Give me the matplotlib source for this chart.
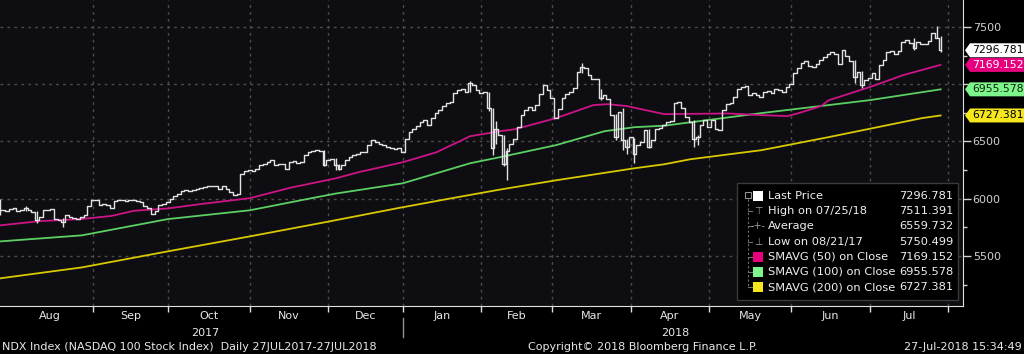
"""NDX Index daily bars with simple moving averages, Bloomberg style."""

import matplotlib
matplotlib.use('Agg')
import matplotlib.pyplot as plt
import matplotlib.transforms as mtransforms
from matplotlib.patches import Polygon, Rectangle
from matplotlib.ticker import FixedFormatter, FixedLocator, MultipleLocator, NullFormatter
import pandas as pd

# exchange holidays inside the window
holidays = ['2017-09-04', '2017-11-23', '2017-12-25', '2018-01-01', '2018-01-15',
            '2018-02-19', '2018-03-30', '2018-05-28', '2018-07-04']

# daily closes 27 Jul 2017 .. 27 Jul 2018
close = [
    5905, 5899, 5895,
    5913, 5922, 5893, 5899, 5922, 5899, 5884, 5811, 5840, 5899, 5905, 5913,
    5826, 5811, 5796, 5855, 5840, 5835, 5826, 5840, 5855, 5933, 5986,
    5992, 5942, 5951, 5942, 5922, 5977, 5992, 5986, 5980, 5986, 5992, 5980,
    5971, 5933, 5922, 5870, 5893, 5942, 5951, 5971,
    5995, 6021, 6044, 6065, 6073, 6068, 6079, 6088, 6097, 6103, 6108, 6114,
    6108, 6088, 6108, 6088, 6059, 6030, 6038, 6219, 6243, 6248,
    6243, 6263, 6292, 6307, 6321, 6342, 6292, 6307, 6301, 6263, 6321, 6330,
    6313, 6321, 6380, 6409, 6418, 6423, 6418, 6292, 6336,
    6351, 6293, 6263, 6293, 6336, 6366, 6380, 6395, 6409, 6409, 6468, 6511,
    6497, 6482, 6468, 6453, 6447, 6438, 6447, 6409,
    6526, 6584, 6605, 6634, 6672, 6686, 6643, 6701, 6745, 6774, 6809, 6832,
    6847, 6920, 6949, 6955, 6934, 7007, 6993, 6949, 6926,
    6934, 6789, 6440, 6610, 6560, 6300, 6420, 6482, 6526, 6628, 6730, 6774,
    6803, 6774, 6817, 6919, 6992, 6948, 6876,
    6701, 6788, 6876, 6919, 6934, 6963, 7109, 7153, 7138, 7080, 7050, 7042,
    6876, 6905, 6867, 6730, 6540, 6759, 6511, 6453, 6540,
    6394, 6467, 6496, 6598, 6453, 6511, 6613, 6622, 6643, 6672, 6681, 6832,
    6847, 6789, 6710, 6672, 6526, 6535, 6643, 6686, 6628,
    6686, 6613, 6599, 6774, 6826, 6832, 6891, 6955, 6978, 6984, 6905, 6926,
    6905, 6891, 6934, 6943, 6926, 6955, 6949, 6934, 6978, 7001,
    7095, 7139, 7182, 7206, 7159, 7147, 7176, 7210, 7236, 7264, 7278, 7264,
    7180, 7298, 7250, 7207, 7065, 7108, 6994, 7037, 7051,
    7094, 7043, 7165, 7213, 7278, 7287, 7264, 7290, 7372, 7384, 7364, 7321,
    7372, 7355, 7350, 7378, 7449, 7406, 7296.781,
]

# days whose intraday range sticks out of the close-to-close steps
spike_idx = [0, 7, 10, 17, 87, 90, 91, 126, 131, 132, 133, 135, 136, 156, 161,
             165, 167, 168, 170, 174, 186, 187, 229, 231, 245, 251, 252]
spike_lo = [5855, 5890, 5790, 5750.499, 6285, 6250, 6250, 6930, 6770, 6380, 6480,
            6290, 6166, 7100, 6860, 6510, 6425, 6390, 6310, 6440, 6453, 6470,
            7010, 6970, 7300, 7400, 7280]
spike_hi = [6000, 5935, 5890, 5830, 6425, 6360, 6300, 7030, 6935, 6790, 6680,
            6560, 6440, 7185, 6960, 6740, 6790, 6520, 6530, 6610, 6690, 6560,
            7215, 7120, 7400, 7511.391, 7420]

# moving averages, read at sample days
sma50_idx = [0, 11, 22, 30, 36, 45, 54, 67, 78, 90, 96, 108, 117, 126, 134, 138,
             149, 159, 163, 168, 178, 195, 204, 211, 214, 220, 222, 233, 242, 252]
sma50_val = [5767, 5805, 5823, 5850, 5895, 5915, 5954, 6005, 6097, 6178, 6231,
             6319, 6406, 6546, 6590, 6607, 6704, 6818, 6826, 6809, 6739, 6745,
             6730, 6722, 6748, 6809, 6860, 6975, 7080, 7169.152]
sma100_idx = [0, 22, 45, 67, 82, 90, 108, 126, 134, 149, 162, 170, 178, 204, 222,
              233, 252]
sma100_val = [5627, 5680, 5822, 5899, 5995, 6045, 6135, 6310, 6363, 6468, 6590,
              6625, 6638, 6748, 6818, 6861, 6955.578]
sma200_idx = [0, 22, 45, 67, 88, 107, 121, 134, 149, 170, 178, 185, 204, 222, 247,
              252]
sma200_val = [5304, 5400, 5540, 5671, 5800, 5920, 6004, 6080, 6161, 6266, 6301,
              6345, 6424, 6538, 6704, 6727.381]

y_ticks = [5500, 6000, 6500, 7000, 7500]
y_tick_labels = ['5500', '6000', '6500', '', '7500']  # 7000 sits under a value tag

legend_labels = ['Last Price', 'High on 07/25/18', 'Average', 'Low on 08/21/17',
                 'SMAVG (50) on Close', 'SMAVG (100) on Close', 'SMAVG (200) on Close']
legend_values = ['7296.781', '7511.391', '6559.732', '5750.499',
                 '7169.152', '6955.578', '6727.381']

footer_left = 'NDX Index (NASDAQ 100 Stock Index)  Daily 27JUL2017-27JUL2018'
footer_mid = 'Copyright\u00a9 2018 Bloomberg Finance L.P.'
footer_right = '27-Jul-2018 15:34:49'

PRICE = '#e2e2e2'
C50, C100, C200 = '#cc1486', '#5ccf64', '#d8c800'
TAG50, TAG100, TAG200 = '#e6007e', '#7ef58a', '#f5e61e'
GRID = '#4c4c4c'
NARROW = ['Liberation Sans Narrow', 'DejaVu Sans']

W, H = 1024, 354
AX_L, AX_R, AX_T, AX_B = 0, 963, 0, 306

fig = plt.figure(figsize=(W / 100, H / 100), dpi=100, facecolor='black')
ax = fig.add_axes([AX_L / W, (H - AX_B) / H, (AX_R - AX_L) / W, (AX_B - AX_T) / H])
ax.set_facecolor('#0e0e12')
ax.set_xlim(0.1, 258.0)
ax.set_ylim(5063, 7736)

# trading calendar -> month boundaries
days = pd.bdate_range('2017-07-27', '2018-08-03', freq='C', holidays=holidays)
pos = pd.Series(range(len(days)), index=days)
month_end = pos.groupby([days.year, days.month]).max().tolist()[:-1]
bounds = month_end[1:]
mid_months = [(a + b) / 2 for a, b in zip(month_end[:-1], month_end[1:])]
month_names = [days[b].strftime('%b') for b in month_end[1:]]

# grid
for b in bounds:
    ax.axvline(b, color=GRID, lw=1, ls=(0, (2, 3)), zorder=1)
for v in y_ticks:
    ax.axhline(v, color=GRID, lw=1, ls=(0, (2, 3)), zorder=1)

# averages
ax.plot(sma200_idx, sma200_val, color=C200, lw=1.3, zorder=2)
ax.plot(sma100_idx, sma100_val, color=C100, lw=1.3, zorder=2)
ax.plot(sma50_idx, sma50_val, color=C50, lw=1.3, zorder=2)

# price bars
ax.plot(range(len(close)), close, drawstyle='steps-mid', color=PRICE, lw=1.0, zorder=3)
ax.vlines(spike_idx, spike_lo, spike_hi, color=PRICE, lw=1.0, zorder=3)

# axes styling
for s in ['top', 'left']:
    ax.spines[s].set_visible(False)
ax.spines['right'].set_color('#e0e0e0')
ax.spines['bottom'].set_color('#e0e0e0')
ax.yaxis.tick_right()
ax.yaxis.set_major_locator(FixedLocator(y_ticks))
ax.yaxis.set_major_formatter(FixedFormatter(y_tick_labels))
ax.yaxis.set_minor_locator(MultipleLocator(250))
ax.tick_params(axis='y', which='major', colors='#d0d0d0', labelsize=8, length=6,
               width=1, pad=1)
ax.tick_params(axis='y', which='minor', colors='#d0d0d0', length=3, width=1)
ax.xaxis.set_major_locator(FixedLocator(bounds))
ax.xaxis.set_major_formatter(NullFormatter())
ax.tick_params(axis='x', which='major', colors='#e0e0e0', length=4, width=1)

# month / year labels under the axis
bt = mtransforms.blended_transform_factory(ax.transData, ax.transAxes)
for m, name in zip(mid_months, month_names):
    ax.text(m, -10 / 306, name, transform=bt, ha='center', va='center',
            color='#e8e8e8', fontsize=8, family=NARROW)
ax.text((month_end[0] + month_end[5]) / 2, -27 / 306, '2017', transform=bt,
        ha='center', va='center', color='#e8e8e8', fontsize=8, family=NARROW)
ax.text((month_end[5] + month_end[-1]) / 2, -27 / 306, '2018', transform=bt,
        ha='center', va='center', color='#e8e8e8', fontsize=8, family=NARROW)
ax.plot([month_end[5], month_end[5]], [-12 / 306, -31 / 306], transform=bt,
        color='#909090', lw=1, clip_on=False)

fig.text(2 / W, 7 / H, footer_left, color='#e8e8e8', fontsize=8, family=NARROW,
         ha='left', va='center')
fig.text(643 / W, 7 / H, footer_mid, color='#e8e8e8', fontsize=8, family=NARROW,
         ha='center', va='center')
fig.text(1022 / W, 7 / H, footer_right, color='#e8e8e8', fontsize=8, family=NARROW,
         ha='right', va='center')

# value tags on the right axis
tags = [(float(legend_values[0]), 'white', 'black'),
        (float(legend_values[4]), TAG50, 'white'),
        (float(legend_values[5]), TAG100, '#102010'),
        (float(legend_values[6]), TAG200, 'black')]
for val, face, txt in tags:
    yc = ax.transData.transform((0, val))[1] / fig.dpi / fig.get_figheight()
    hh = 7 / H
    poly = Polygon([(965 / W, yc), (970 / W, yc + hh), (1.0, yc + hh), (1.0, yc - hh),
                    (970 / W, yc - hh)], closed=True, facecolor=face, edgecolor='none',
                   transform=fig.transFigure, zorder=5)
    fig.add_artist(poly)
    fig.text(972 / W, yc, f'{val:.3f}', color=txt, fontsize=7.8, ha='left',
             va='center', zorder=6)


# legend box
def axp(x, y):
    return (x - AX_L) / (AX_R - AX_L), 1 - (y - AX_T) / (AX_B - AX_T)


x0, y0 = axp(737, 300)
x1, y1 = axp(958, 183)
ax.add_patch(Rectangle((x0, y0), x1 - x0, y1 - y0, transform=ax.transAxes,
                       facecolor='black', edgecolor='#3a3a3a', lw=1, zorder=8))
row_y = [196 + 15.2 * i for i in range(len(legend_labels))]
tx, ty = axp(748, 199)
bx, by = axp(748, row_y[-1])
ax.plot([tx, bx], [ty, by], transform=ax.transAxes, color='#707070', lw=0.8,
        ls=(0, (2, 2)), zorder=9)
ax.add_patch(Rectangle(axp(745, 198), 6 / 963, 6 / 306, transform=ax.transAxes,
                       facecolor='black', edgecolor='#909090', lw=0.8, zorder=9))
swatch = {0: 'white', 4: TAG50, 5: TAG100, 6: TAG200}
glyph = {1: '\u22a4', 2: '-+-', 3: '\u22a5'}
for i, (lab, val) in enumerate(zip(legend_labels, legend_values)):
    ry = row_y[i]
    if i > 0:
        ax.plot([axp(748, ry)[0], axp(752, ry)[0]], [axp(748, ry)[1]] * 2,
                transform=ax.transAxes, color='#707070', lw=0.8, zorder=9)
    if i in swatch:
        ax.add_patch(Rectangle(axp(753, ry + 5), 10 / 963, 10 / 306,
                               transform=ax.transAxes, facecolor=swatch[i],
                               edgecolor='none', zorder=9))
    else:
        gx, gy = axp(758, ry)
        ax.text(gx, gy, glyph[i], transform=ax.transAxes, color='#a0a0a0',
                fontsize=7, ha='center', va='center', zorder=9)
    lx, ly = axp(768, ry)
    ax.text(lx, ly, lab, transform=ax.transAxes, color='#f0f0f0', fontsize=8.2,
            ha='left', va='center', zorder=9)
    vx, vy = axp(953, ry)
    ax.text(vx, vy, val, transform=ax.transAxes, color='#f0f0f0', fontsize=8.2,
            ha='right', va='center', zorder=9)

fig.savefig('out.png', dpi=100, facecolor='black')
